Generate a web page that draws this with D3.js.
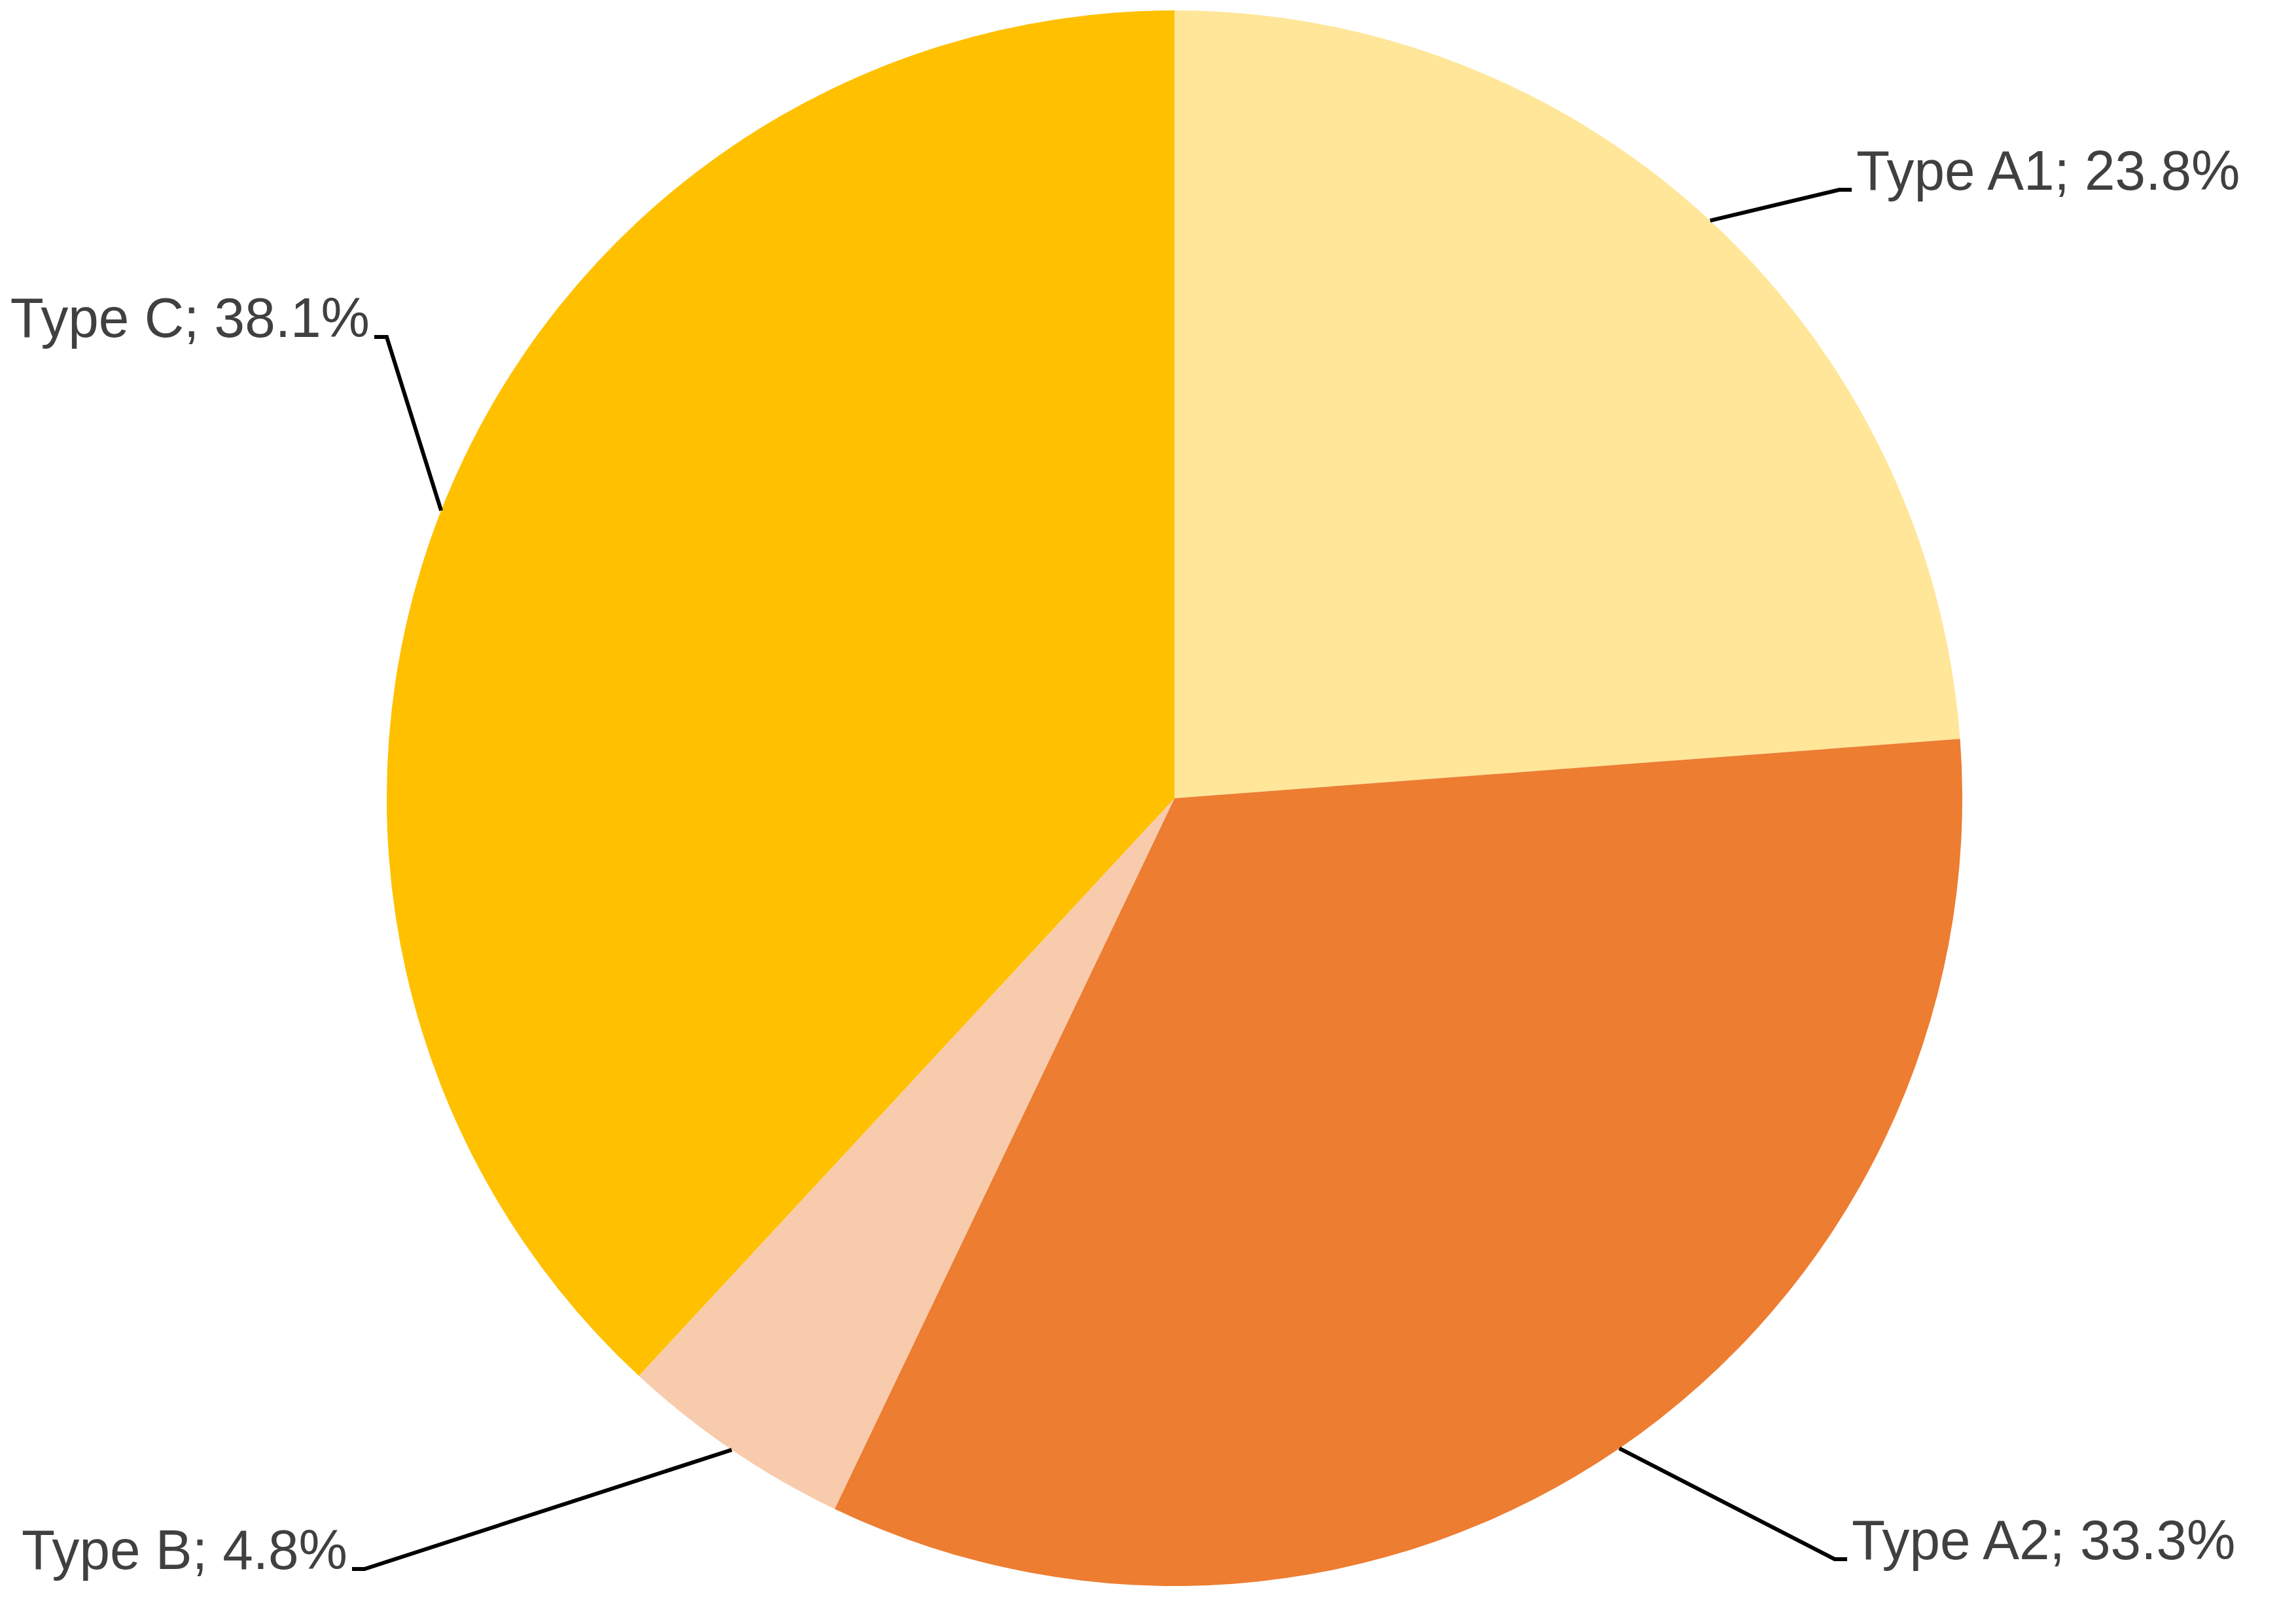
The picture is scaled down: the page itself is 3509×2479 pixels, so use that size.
<!DOCTYPE html>
<html>
<head>
<meta charset="utf-8">
<script src="https://cdn.jsdelivr.net/npm/d3@7"></script>
<style>
  html, body { margin: 0; padding: 0; background: #ffffff; }
  svg { display: block; }
</style>
</head>
<body>
<script>
// ---- data ----
const categories = ["Type A1", "Type A2", "Type B", "Type C"];
const values = [23.8, 33.3, 4.8, 38.1];
const colors = ["#FFE699", "#ED7D31", "#F8CBAD", "#FFC000"];

// ---- layout (label elbow offsets from pie centre, side of label) ----
const labelElbows = [
  { dx: 1016, dy: -930, side: 1 },
  { dx: 1009, dy: 1163, side: 1 },
  { dx: -1238, dy: 1178, side: -1 },
  { dx: -1204, dy: -705, side: -1 }
];

const W = 3509, H = 2479;
const cx = 1795, cy = 1220, R = 1204;

const svg = d3.select("body").append("svg")
  .attr("width", W).attr("height", H);

const g = svg.append("g").attr("transform", `translate(${cx},${cy})`);

const total = d3.sum(values);
const pie = d3.pie().sort(null).value(d => d.value);
const arcs = pie(categories.map((c, i) => ({ name: c, value: values[i], color: colors[i] })));

const arc = d3.arc().innerRadius(0).outerRadius(R);

g.selectAll("path.slice")
  .data(arcs)
  .join("path")
  .attr("class", "slice")
  .attr("d", arc)
  .attr("fill", d => d.data.color);

// leader lines + labels
const fmt = d3.format(".1f");
arcs.forEach((d, i) => {
  const a = (d.startAngle + d.endAngle) / 2;
  const sx = R * Math.sin(a), sy = -R * Math.cos(a);
  const L = labelElbows[i];
  const ex = L.dx + L.side * 19;
  g.append("path")
    .attr("d", `M${sx},${sy}L${L.dx},${L.dy}L${ex},${L.dy}`)
    .attr("fill", "none")
    .attr("stroke", "#000000")
    .attr("stroke-width", 6)
    .attr("stroke-linejoin", "miter");
  g.append("text")
    .attr("transform", `translate(${ex + L.side * 7},${L.dy}) scale(0.985,1)`)
    .attr("text-anchor", L.side > 0 ? "start" : "end")
    .attr("font-family", "'Liberation Sans', Arial, sans-serif")
    .attr("font-size", 85)
    .attr("fill", "#404040")
    .text(`${d.data.name}; ${fmt(d.data.value / total * 100)}%`);
});
</script>
</body>
</html>
